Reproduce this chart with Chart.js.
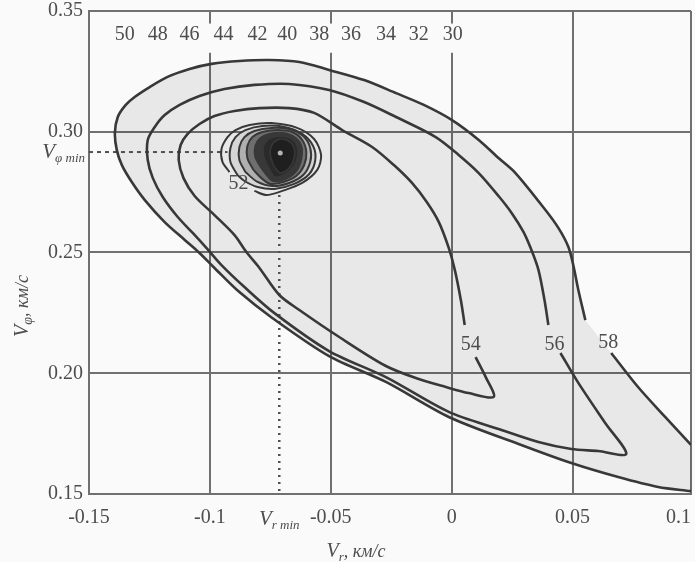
<!DOCTYPE html>
<html>
<head>
<meta charset="utf-8">
<script src="https://cdn.jsdelivr.net/npm/chart.js@4.4.1/dist/chart.umd.min.js"></script>
<style>
  body { margin: 0; background: #fafafa; }
  #wrap { width: 695px; height: 562px; }
</style>
</head>
<body>
<div id="wrap"><canvas id="chart" width="695" height="562"></canvas></div>
<script>
// Contour levels of the (Vr, Vphi) map, points as [Vr, Vphi] in km/s

// tick labels
const xTickLabels = ['-0.15', '-0.1', '-0.05', '0', '0.05', '0.1'];
const yTickLabels = ['0.15', '0.20', '0.25', '0.30', '0.35'];

// level 58: open at the right border, broken by its label
const contour58a = [[0.0990, 0.1703], [0.0883, 0.1819], [0.0771, 0.1943], [0.0660, 0.2084]];
const contour58b = [[0.0553, 0.2220], [0.0524, 0.2345], [0.0503, 0.2448], [0.0483, 0.2523], [0.0442, 0.2601],
  [0.0388, 0.2676], [0.0264, 0.2829], [0.0194, 0.2891], [0.0112, 0.2966], [0.0000, 0.3049], [-0.0115, 0.3111],
  [-0.0230, 0.3160], [-0.0362, 0.3214], [-0.0507, 0.3256], [-0.0630, 0.3289], [-0.0754, 0.3297], [-0.0878, 0.3293],
  [-0.0993, 0.3281], [-0.1084, 0.3260], [-0.1175, 0.3227], [-0.1249, 0.3185], [-0.1311, 0.3144], [-0.1348, 0.3111],
  [-0.1381, 0.3061], [-0.1393, 0.2995], [-0.1385, 0.2924], [-0.1364, 0.2862], [-0.1323, 0.2792], [-0.1269, 0.2717],
  [-0.1187, 0.2626], [-0.1104, 0.2552], [-0.1043, 0.2498], [-0.0981, 0.2436], [-0.0878, 0.2336], [-0.0742, 0.2229],
  [-0.0507, 0.2071], [-0.0272, 0.1964], [-0.0012, 0.1819], [0.0277, 0.1707], [0.0495, 0.1628], [0.0689, 0.1570],
  [0.0854, 0.1529], [0.0990, 0.1512]];

// level 56 (starts just after its label, runs round to just before it)
const contour56 = [[0.0450, 0.2084], [0.0524, 0.1960], [0.0635, 0.1794], [0.0722, 0.1666], [0.0606, 0.1678],
  [0.0495, 0.1686], [0.0359, 0.1715], [0.0194, 0.1769], [-0.0012, 0.1840], [-0.0272, 0.1984], [-0.0507, 0.2092],
  [-0.0733, 0.2249], [-0.0857, 0.2357], [-0.0952, 0.2448], [-0.1010, 0.2514], [-0.1071, 0.2581], [-0.1133, 0.2647],
  [-0.1195, 0.2730], [-0.1236, 0.2808], [-0.1257, 0.2883], [-0.1257, 0.2966], [-0.1228, 0.3020], [-0.1187, 0.3069],
  [-0.1125, 0.3111], [-0.1043, 0.3148], [-0.0940, 0.3177], [-0.0816, 0.3194], [-0.0672, 0.3198], [-0.0507, 0.3173],
  [-0.0362, 0.3123], [-0.0230, 0.3061], [-0.0066, 0.2978], [0.0029, 0.2904], [0.0112, 0.2829], [0.0194, 0.2734],
  [0.0248, 0.2664], [0.0297, 0.2585], [0.0330, 0.2510], [0.0359, 0.2428], [0.0384, 0.2303], [0.0400, 0.2200]];

// level 54
const contour54 = [[0.0099, 0.2067], [0.0141, 0.1984], [0.0174, 0.1902], [0.0070, 0.1918], [-0.0024, 0.1943],
  [-0.0136, 0.1976], [-0.0272, 0.2030], [-0.0465, 0.2150], [-0.0630, 0.2262], [-0.0713, 0.2324], [-0.0795, 0.2436],
  [-0.0849, 0.2502], [-0.0898, 0.2572], [-0.0981, 0.2655], [-0.1063, 0.2734], [-0.1109, 0.2808], [-0.1129, 0.2883],
  [-0.1121, 0.2945], [-0.1092, 0.2991], [-0.1043, 0.3032], [-0.0981, 0.3065], [-0.0898, 0.3086], [-0.0795, 0.3098],
  [-0.0672, 0.3098], [-0.0569, 0.3078], [-0.0453, 0.3007], [-0.0329, 0.2937], [-0.0239, 0.2862], [-0.0164, 0.2788],
  [-0.0103, 0.2709], [-0.0053, 0.2626], [-0.0012, 0.2519], [0.0013, 0.2428], [0.0038, 0.2303], [0.0054, 0.2200]];

// inner cluster round the minimum
const ring52 = [[-0.0919, 0.2833], [-0.0948, 0.2875], [-0.0952, 0.2929], [-0.0927, 0.2978], [-0.0894, 0.3007],
  [-0.0836, 0.3028], [-0.0746, 0.3036], [-0.0639, 0.3016], [-0.0569, 0.2970], [-0.0540, 0.2904], [-0.0556, 0.2842],
  [-0.0618, 0.2788], [-0.0700, 0.2755], [-0.0766, 0.2738], [-0.0816, 0.2755]];
const ring50 = [[-0.0886, 0.2821], [-0.0915, 0.2875], [-0.0915, 0.2933], [-0.0894, 0.2978], [-0.0853, 0.3007],
  [-0.0783, 0.3024], [-0.0692, 0.3020], [-0.0618, 0.2991], [-0.0573, 0.2941], [-0.0564, 0.2883], [-0.0589, 0.2825],
  [-0.0651, 0.2784], [-0.0733, 0.2763], [-0.0803, 0.2771], [-0.0857, 0.2796], [-0.0886, 0.2821]];
const ring48 = [[-0.0853, 0.2833], [-0.0878, 0.2883], [-0.0878, 0.2937], [-0.0857, 0.2978], [-0.0816, 0.3003],
  [-0.0746, 0.3016], [-0.0672, 0.3011], [-0.0614, 0.2982], [-0.0585, 0.2933], [-0.0585, 0.2875], [-0.0614, 0.2821],
  [-0.0672, 0.2788], [-0.0742, 0.2775], [-0.0803, 0.2792], [-0.0853, 0.2833]];
const ring46 = [[-0.0820, 0.2842], [-0.0845, 0.2891], [-0.0845, 0.2941], [-0.0824, 0.2978], [-0.0783, 0.2999],
  [-0.0721, 0.3007], [-0.0659, 0.2999], [-0.0618, 0.2966], [-0.0601, 0.2916], [-0.0610, 0.2862], [-0.0643, 0.2817],
  [-0.0696, 0.2792], [-0.0750, 0.2784], [-0.0787, 0.2808], [-0.0820, 0.2842]];
const ring44 = [[-0.0787, 0.2850], [-0.0812, 0.2895], [-0.0812, 0.2941], [-0.0791, 0.2974], [-0.0754, 0.2991],
  [-0.0700, 0.2995], [-0.0651, 0.2978], [-0.0622, 0.2941], [-0.0622, 0.2887], [-0.0643, 0.2837], [-0.0688, 0.2804],
  [-0.0738, 0.2796], [-0.0762, 0.2817], [-0.0787, 0.2850]];
const ring42 = [[-0.0762, 0.2858], [-0.0779, 0.2900], [-0.0779, 0.2941], [-0.0758, 0.2970], [-0.0721, 0.2982],
  [-0.0676, 0.2978], [-0.0643, 0.2953], [-0.0635, 0.2904], [-0.0651, 0.2858], [-0.0692, 0.2821], [-0.0733, 0.2813],
  [-0.0762, 0.2858]];
const ringCore = [[-0.0738, 0.2862], [-0.0750, 0.2904], [-0.0746, 0.2941], [-0.0721, 0.2966], [-0.0684, 0.2966],
  [-0.0655, 0.2941], [-0.0651, 0.2895], [-0.0672, 0.2850], [-0.0709, 0.2829], [-0.0738, 0.2862]];
const minPoint = [-0.0709, 0.2912];

// dotted guides to the minimum
const vphiMinLine = [[-0.15, 0.2916], [-0.0927, 0.2916]];
const vrMinLine = [[-0.0713, 0.2738], [-0.0713, 0.15]];

// level labels
const levelLabels = ['52', '54', '56', '58'];
const levelLabelPos = [[-0.0882, 0.2784], [0.0079, 0.2117], [0.0425, 0.2117], [0.0648, 0.2125]];
const topLabels = ['50', '48', '46', '44', '42', '40', '38', '36', '34', '32', '30'];
const topLabelX = [-0.1352, -0.1216, -0.1084, -0.0944, -0.0803, -0.0680, -0.0548, -0.0416, -0.0272, -0.0136, 0.0005];
const topLabelY = 0.3401;

const LINE = '#383838';
const TEXT = '#4d4d4d';
const GRID = '#707070';
const SERIF = '"Liberation Serif", "DejaVu Serif", serif';

const pts = arr => arr.map(p => ({ x: p[0], y: p[1] }));

function contour(data, width, order, extra) {
    return Object.assign({
        data: pts(data),
        showLine: true,
        borderColor: LINE,
        borderWidth: width,
        pointRadius: 0,
        tension: 0.3,
        fill: false,
        order: order
    }, extra || {});
}

function drawParts(ctx, parts, x, y, align) {
    let total = 0;
    parts.forEach(p => {
        ctx.font = 'italic ' + p.size + 'px ' + SERIF;
        p.w = ctx.measureText(p.t).width;
        total += p.w;
    });
    let cx = align === 'right' ? x - total : (align === 'center' ? x - total / 2 : x);
    ctx.textAlign = 'left';
    ctx.textBaseline = 'alphabetic';
    parts.forEach(p => {
        ctx.font = 'italic ' + p.size + 'px ' + SERIF;
        ctx.fillText(p.t, cx, y + (p.dy || 0));
        cx += p.w;
    });
}

const annotate = {
    id: 'annotate',
    beforeDatasetsDraw(chart) {
        // label band at the top interrupts the grid lines
        const { ctx, scales: { x, y } } = chart;
        const top = y.getPixelForValue(0.3448);
        const bottom = y.getPixelForValue(0.3327);
        ctx.save();
        ctx.fillStyle = '#fafafa';
        ctx.fillRect(x.getPixelForValue(-0.145), top, x.getPixelForValue(0.007) - x.getPixelForValue(-0.145), bottom - top);
        ctx.restore();
    },
    afterDraw(chart) {
        const { ctx, scales: { x, y }, chartArea } = chart;
        ctx.save();
        ctx.fillStyle = TEXT;
        ctx.font = '20px ' + SERIF;
        ctx.textAlign = 'center';
        ctx.textBaseline = 'middle';
        topLabels.forEach((t, i) => {
            ctx.fillText(t, x.getPixelForValue(topLabelX[i]), y.getPixelForValue(topLabelY));
        });
        levelLabels.forEach((t, i) => {
            const px = x.getPixelForValue(levelLabelPos[i][0]);
            const py = y.getPixelForValue(levelLabelPos[i][1]);
            ctx.fillText(t, px, py);
        });

        // last x tick label sits inside the right border
        const tickY = chartArea.bottom + 24;
        ctx.textAlign = 'right';
        ctx.fillText(xTickLabels[5], chartArea.right, tickY);

        // V_phi min and V_r min markers
        drawParts(ctx, [{ t: 'V', size: 21 }, { t: '\u03C6 min', size: 13, dy: 4 }],
            chartArea.left - 4, y.getPixelForValue(vphiMinLine[0][1]) + 6, 'right');
        drawParts(ctx, [{ t: 'V', size: 21 }, { t: 'r min', size: 13, dy: 4 }],
            x.getPixelForValue(vrMinLine[0][0]), tickY + 7, 'center');

        // axis titles
        drawParts(ctx, [{ t: 'V', size: 20 }, { t: 'r', size: 13, dy: 4 }, { t: ', \u043A\u043C/\u0441', size: 18 }],
            356, 557, 'center');
        ctx.translate(22, 306);
        ctx.rotate(-Math.PI / 2);
        drawParts(ctx, [{ t: 'V', size: 20 }, { t: '\u03C6', size: 14, dy: 4 }, { t: ', \u043A\u043C/\u0441', size: 18 }],
            0, 6, 'center');
        ctx.restore();
    }
};

const fill58 = contour58b.concat(contour58a);

new Chart(document.getElementById('chart'), {
    type: 'scatter',
    data: {
        datasets: [
            contour(ringCore, 1.5, 1, { fill: 'shape', backgroundColor: '#1f1f1f' }),
            contour(ring42, 2, 2, { fill: 'shape', backgroundColor: '#2a2a2a' }),
            contour(ring44, 2, 3, { fill: 'shape', backgroundColor: '#383838' }),
            contour(ring46, 2, 4, { fill: 'shape', backgroundColor: '#6e6e6e' }),
            contour(ring48, 2, 5, { fill: 'shape', backgroundColor: '#b0b0b0' }),
            contour(ring50, 2, 6, { fill: 'shape', backgroundColor: '#d6d6d6' }),
            contour(ring52, 2, 7),
            contour(contour54, 2.6, 8),
            contour(contour56, 2.6, 8),
            contour(contour58a, 2.6, 8),
            contour(contour58b, 2.6, 8),
            contour(vphiMinLine, 2, 9, { borderDash: [4, 4], borderColor: '#505050', tension: 0 }),
            contour(vrMinLine, 2.5, 9, { borderDash: [2, 5], borderColor: '#505050', tension: 0 }),
            {
                data: pts([minPoint]),
                pointRadius: 2.5,
                pointBackgroundColor: '#b5b5b5',
                pointBorderWidth: 0,
                order: 0
            },
            contour(fill58, 0, 20, { fill: 'shape', backgroundColor: 'rgba(0,0,0,0.07)' })
        ]
    },
    options: {
        responsive: false,
        animation: false,
        layout: { padding: { left: 0, right: 2, top: 11, bottom: 0 } },
        plugins: {
            legend: { display: false },
            tooltip: { enabled: false }
        },
        scales: {
            x: {
                type: 'linear',
                min: -0.15,
                max: 0.099,
                afterFit(scale) {
                    scale.height = 68;
                    scale.paddingLeft = 0;
                    scale.paddingRight = 0;
                },
                ticks: {
                    stepSize: 0.05,
                    padding: 12,
                    color: TEXT,
                    font: { family: SERIF, size: 20 },
                    // the 0.1 label is drawn inside the border by the plugin
                    callback: (v, i) => (i < 5 ? xTickLabels[i] : '')
                },
                grid: { color: GRID, lineWidth: 2, drawTicks: false },
                border: { color: GRID, width: 2 }
            },
            y: {
                type: 'linear',
                min: 0.15,
                max: 0.35,
                afterFit(scale) {
                    scale.width = 89;
                    scale.paddingTop = 0;
                    scale.paddingBottom = 0;
                },
                ticks: {
                    stepSize: 0.05,
                    padding: 6,
                    color: TEXT,
                    font: { family: SERIF, size: 20 },
                    callback: (v, i) => yTickLabels[i]
                },
                grid: { color: GRID, lineWidth: 2, drawTicks: false },
                border: { color: GRID, width: 2 }
            }
        }
    },
    plugins: [annotate]
});
</script>
</body>
</html>
